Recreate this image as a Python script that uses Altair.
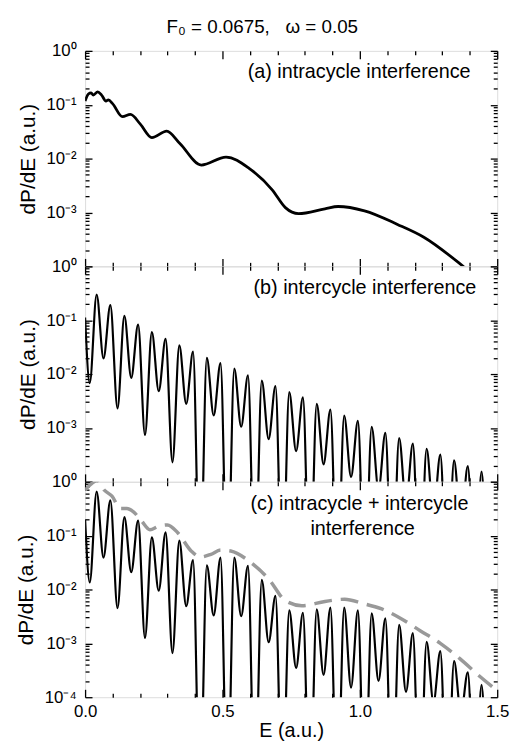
import altair as alt
import pandas as pd

# ---------------- data ----------------
# (a) intracycle interference
E_A = [0.000, 0.012, 0.022, 0.030, 0.046, 0.060, 0.076, 0.085, 0.100, 0.136,
       0.165, 0.201, 0.243, 0.297, 0.345, 0.423, 0.513, 0.597, 0.681, 0.729,
       0.777, 0.873, 0.921, 1.017, 1.137, 1.233, 1.364, 1.400]
P_A = [0.117, 0.158, 0.166, 0.151, 0.174, 0.151, 0.117, 0.123, 0.105, 0.060,
       0.066, 0.0437, 0.0245, 0.0324, 0.0191, 0.0076, 0.0107, 0.0066, 0.00263, 0.00123,
       0.00095, 0.00117, 0.00129, 0.00107, 0.00060, 0.000347, 0.000112, 0.000079]

# energies of peaks / troughs shared by (b) and (c)
E_BC = [0.000, 0.017, 0.042, 0.067, 0.092, 0.118, 0.143, 0.168, 0.193, 0.218,
        0.243, 0.268, 0.293, 0.318, 0.343, 0.368, 0.393, 0.418, 0.443, 0.468,
        0.493, 0.518, 0.543, 0.568, 0.593, 0.618, 0.643, 0.668, 0.693, 0.718,
        0.743, 0.768, 0.793, 0.818, 0.843, 0.868, 0.893, 0.918, 0.943, 0.968,
        0.993, 1.018, 1.043, 1.068, 1.093, 1.118, 1.143, 1.168, 1.193, 1.218,
        1.243, 1.268, 1.293, 1.318, 1.343, 1.368, 1.393, 1.418, 1.443, 1.468,
        1.500]
# (b) intercycle interference
P_B = [0.112, 0.0068, 0.30, 0.0195, 0.19, 0.0023, 0.12, 0.0085, 0.083, 0.00074,
       0.060, 0.0048, 0.045, 0.00023, 0.034, 0.0028, 0.026, 1e-6, 0.020, 0.0017,
       0.016, 1e-6, 0.0126, 0.00105, 0.0095, 1e-6, 0.0076, 0.00062, 0.0060, 1e-6,
       0.0046, 0.00037, 0.0037, 1e-6, 0.0028, 0.00021, 0.0022, 1e-6, 0.0017, 0.000123,
       0.00135, 1e-6, 0.00105, 0.000071, 0.00081, 1e-6, 0.00065, 0.00004, 0.00051, 1e-6,
       0.00041, 0.000025, 0.00032, 1e-6, 0.00025, 0.000016, 0.000195, 1e-6, 0.000155, 1e-6,
       0.00006]
# (c) intracycle + intercycle interference
P_C = [0.20, 0.0135, 0.66, 0.039, 0.45, 0.0045, 0.22, 0.021, 0.19, 0.00126,
       0.093, 0.0095, 0.115, 0.00066, 0.081, 0.0049, 0.035, 1e-6, 0.028, 0.0033,
       0.039, 1e-6, 0.039, 0.0032, 0.0275, 1e-6, 0.0151, 0.00105, 0.0076, 1e-6,
       0.0041, 0.00035, 0.0037, 1e-6, 0.0043, 0.00026, 0.0046, 1e-6, 0.0046, 0.000151,
       0.0041, 1e-6, 0.0036, 0.0002, 0.0029, 1e-6, 0.0022, 0.000126, 0.00155, 1e-6,
       0.00107, 0.00008, 0.00072, 1e-6, 0.00047, 0.00005, 0.00029, 1e-6, 0.00017, 1e-6,
       0.00005]
# grey dashed envelope in (c)
E_ENV = [0.000, 0.020, 0.045, 0.070, 0.098, 0.128, 0.152, 0.175, 0.206, 0.236,
         0.266, 0.300, 0.338, 0.386, 0.420, 0.458, 0.494, 0.530, 0.602, 0.669,
         0.729, 0.789, 0.873, 0.945, 1.011, 1.077, 1.149, 1.221, 1.293, 1.364,
         1.436, 1.500]
P_ENV = [0.70, 0.89, 1.05, 0.70, 0.54, 0.32, 0.32, 0.28, 0.186, 0.129,
         0.148, 0.158, 0.112, 0.052, 0.040, 0.045, 0.054, 0.052, 0.032, 0.0155,
         0.0062, 0.0050, 0.0060, 0.0066, 0.0055, 0.0044, 0.0029, 0.0017, 0.0010, 0.00052,
         0.000245, 0.000132]

X_MAJOR = [0.0, 0.5, 1.0, 1.5]
X_MINOR = [0.1, 0.2, 0.3, 0.4, 0.6, 0.7, 0.8, 0.9, 1.1, 1.2, 1.3, 1.4]
Y_MAJOR = [1e-4, 1e-3, 1e-2, 1e-1, 1.0]
Y_MINOR = [m * 10.0 ** d for d in (-4, -3, -2, -1) for m in range(2, 10)]

NB = "\u00a0"
TITLE = "F₀ = 0.0675," + NB * 3 + "ω = 0.05"
YTITLE = "dP/dE (a.u.)"
XTITLE = "E (a.u.)"

# ---------------- chart ----------------
W, H = 417, 218
FONT = "Liberation Sans"

df_a = pd.DataFrame({"E": E_A, "P": P_A})
df_b = pd.DataFrame({"E": E_BC, "P": P_B})
df_c = pd.DataFrame({"E": E_BC, "P": P_C})
df_env = pd.DataFrame({"E": E_ENV, "P": P_ENV})

xs = alt.Scale(domain=[0, 1.5], nice=False, zero=False)
ys = alt.Scale(type="log", domain=[1e-4, 1], nice=False)

LABEL_EXPR = ("'10' + (datum.value > 0.5 ? '⁰' : datum.value > 0.05 ? '⁻¹' : "
              "datum.value > 0.005 ? '⁻²' : datum.value > 0.0005 ? '⁻³' : '⁻⁴')")


def tick_layer(df, xorient, yorient, xvals, yvals, xsize, ysize):
    common = dict(labels=False, domain=False, grid=False, title=None,
                  tickColor="black", tickWidth=1.3)
    return alt.Chart(df).mark_line(opacity=0, clip=True).encode(
        x=alt.X("E:Q", scale=xs, axis=alt.Axis(orient=xorient, offset=-H, values=xvals,
                                               tickSize=xsize, **common)),
        y=alt.Y("P:Q", scale=ys, axis=alt.Axis(orient=yorient, offset=-W, values=yvals,
                                               tickSize=ysize, **common)),
    )


def ticks(df):
    return [
        tick_layer(df, "top", "right", X_MAJOR, Y_MAJOR, 8, 7),
        tick_layer(df, "top", "right", X_MINOR, Y_MINOR, 4, 4),
        tick_layer(df, "bottom", "left", X_MAJOR, Y_MAJOR, 8, 7),
        tick_layer(df, "bottom", "left", X_MINOR, Y_MINOR, 4, 4),
    ]


def main_layer(df, sw, bottom):
    if bottom:
        xaxis = alt.Axis(orient="bottom", values=X_MAJOR, format=".1f", ticks=False, tickSize=0,
                         domain=False, grid=False, title=XTITLE, labelFontSize=17,
                         titleFontSize=20, titleFontWeight="normal", labelPadding=7,
                         titlePadding=1, labelFlush=False, labelColor="black",
                         titleColor="black", labelFont=FONT, titleFont=FONT)
    else:
        xaxis = None
    yvals = Y_MAJOR if bottom else Y_MAJOR[1:]
    yaxis = alt.Axis(orient="left", values=yvals, labelExpr=LABEL_EXPR, ticks=False, tickSize=0,
                     domain=False, grid=False, title=YTITLE, labelFontSize=17, titleFontSize=21,
                     titleFontWeight="normal", labelPadding=9, titlePadding=8,
                     labelOverlap=False, labelColor="black", titleColor="black",
                     labelFont=FONT, titleFont=FONT)
    return alt.Chart(df).mark_line(interpolate="monotone", clip=True, color="black",
                                   strokeWidth=sw).encode(
        x=alt.X("E:Q", scale=xs, axis=xaxis),
        y=alt.Y("P:Q", scale=ys, axis=yaxis),
    )


def text_layer(txt, ex, ey, align):
    return alt.Chart(pd.DataFrame({"t": [txt]})).mark_text(
        align=align, baseline="middle", fontSize=20, font=FONT, color="black"
    ).encode(
        x=alt.XDatum(ex, type="quantitative", scale=xs, axis=None),
        y=alt.YDatum(ey, type="quantitative", scale=ys, axis=None),
        text="t:N",
    )


env_layer = alt.Chart(df_env).mark_line(interpolate="monotone", clip=True, color="#999999",
                                        strokeWidth=3.5, strokeDash=[18, 9]).encode(
    x=alt.X("E:Q", scale=xs, axis=None),
    y=alt.Y("P:Q", scale=ys, axis=None),
)

pa = alt.layer(main_layer(df_a, 2.8, False), *ticks(df_a),
               text_layer("(a) intracycle interference", 1.403, 0.40, "right")
               ).resolve_axis(x="independent", y="independent").properties(width=W, height=H)
pb = alt.layer(main_layer(df_b, 2.2, False), *ticks(df_b),
               text_layer("(b) intercycle interference", 1.424, 0.39, "right")
               ).resolve_axis(x="independent", y="independent").properties(width=W, height=H)
pc = alt.layer(main_layer(df_c, 2.2, True), env_layer, *ticks(df_c),
               text_layer("(c) intracycle + intercycle", 1.395, 0.38, "right"),
               text_layer("interference", 1.01, 0.13, "center")
               ).resolve_axis(x="independent", y="independent").properties(width=W, height=H)

chart = alt.vconcat(pa, pb, pc, spacing=0, bounds="flush").properties(
    title=alt.TitleParams(TITLE, fontSize=19, font=FONT, fontWeight="normal", anchor="middle",
                          color="black", offset=5),
    padding={"left": 7, "top": 5, "right": 5, "bottom": 2},
).configure_view(stroke="black", strokeWidth=1.6).configure(font=FONT)

chart.save("out.html", embed_options={"renderer": "svg", "actions": False})
